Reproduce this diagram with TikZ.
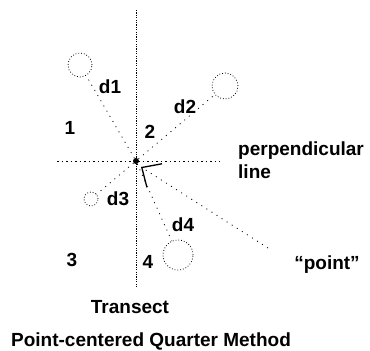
\documentclass[tikz,border=0pt]{standalone}
\usepackage{fontspec}
\setmainfont{Liberation Sans}
\usetikzlibrary{arrows.meta}
\usetikzlibrary{positioning}

\begin{document}
\begin{tikzpicture}[x=1pt, y=1pt,
    every node/.style={font=\fontsize{19}{23}\selectfont\bfseries},
    tree/.style={circle, draw, dotted, thick, inner sep=0pt},
    dist/.style={dash pattern=on 1pt off 5pt, thick},
    transect/.style={dash pattern=on 1.2pt off 1.2pt, thin},
    perp/.style={dash pattern=on 1.5pt off 3pt, thick}]
      \useasboundingbox (0,0) rectangle (370,351);
      % transect and perpendicular line
      \coordinate (ttop) at (136,341);
      \coordinate (tbot) at (136,63);
      \coordinate (pleft) at (57,190);
      \coordinate (pright) at (220,190);
      \draw [transect] (ttop) -- (tbot);
      \draw [perp] (pleft) -- (pright);
      \node [circle, fill, inner sep=0pt, minimum size=6pt] (c) at (136,190) {};

      % nearest tree in each quarter
      \node [tree, minimum size=24pt] (t1) at (80,286) {};
      \node [tree, minimum size=26pt] (t2) at (225,265) {};
      \node [tree, minimum size=14pt] (t3) at (91,152) {};
      \node [tree, minimum size=30pt] (t4) at (178,96) {};
      \draw [dist] (c) -- (t1);
      \draw [dist] (c) -- (t2);
      \draw [dist] (c) -- (t3);
      \draw [dist] (c) -- (t4);

      \node (d1) at (110,264) {d1};
      \node (d2) at (185,244) {d2};
      \node (d3) at (118,152) {d3};
      \node (d4) at (183,126) {d4};

      \node (q1) at (70,223) {1};
      \node (q2) at (150,219) {2};
      \node (q3) at (72,91) {3};
      \node (q4) at (148,89) {4};

      \node [anchor=north west, align=left, inner sep=0pt] (pl) at (238,209) {perpendicular\\line};
      \node (pt) at (327,86) {``point''};
      \coordinate (ptail) at (268,103);
      \coordinate (ptip) at (141,184);
      \draw [dist, -{Straight Barb[length=15pt, width=28pt, line width=1.3pt]}] (ptail) -- (ptip);

      \node (tr) at (130,44) {Transect};
      \node (title) at (151,10) {Point-centered Quarter Method};
    \end{tikzpicture}
\end{document}
